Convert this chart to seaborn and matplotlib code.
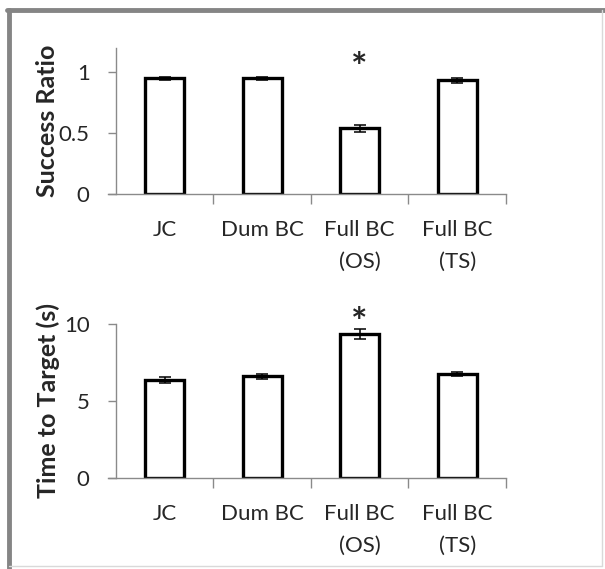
import pandas as pd
import matplotlib.pyplot as plt
import seaborn as sns
from matplotlib.lines import Line2D

# Datos
categorias = ["JC", "Dum BC", "Full BC\n(OS)", "Full BC\n(TS)"]
ratio_media = [0.95, 0.95, 0.54, 0.935]
ratio_error = [0.01, 0.01, 0.03, 0.02]
tiempo_media = [6.35, 6.6, 9.35, 6.75]
tiempo_error = [0.2, 0.15, 0.3, 0.12]
significativo = [False, False, True, False]

sns.set_style("white")
plt.rcParams["font.family"] = ["Lato", "DejaVu Sans"]

GRIS = "#8a8a8a"

df = pd.DataFrame({
    "cond": categorias,
    "ratio": ratio_media,
    "ratio_err": ratio_error,
    "tiempo": tiempo_media,
    "tiempo_err": tiempo_error,
})

fig = plt.figure(figsize=(6.05, 5.69), dpi=100)
ax1 = fig.add_axes([0.1917, 0.659, 0.6446, 0.2566])
ax2 = fig.add_axes([0.1917, 0.160, 0.6446, 0.2707])


def panel(ax, col, err_col, ylim, yticks, ylabel, star_y, lpad):
    sns.barplot(data=df, x="cond", y=col, color="white", edgecolor="black",
                linewidth=2.4, width=0.4, ax=ax, errorbar=None)
    ax.errorbar(range(len(df)), df[col], yerr=df[err_col], fmt="none",
                ecolor="black", elinewidth=1.1, capsize=4.5, capthick=1.1)
    ax.set_xlim(-0.5, len(df) - 0.5)
    ax.set_ylim(*ylim)
    ax.set_yticks(yticks)
    ax.set_yticklabels([f"{t:g}" for t in yticks], fontsize=16)
    ax.set_xticks([i + 0.5 for i in range(len(df))])
    ax.set_xticklabels([])
    ax.set_xticks(range(len(df)), minor=True)
    ax.set_xticklabels(df["cond"], minor=True, fontsize=16, linespacing=1.7)
    ax.tick_params(axis="x", which="major", direction="out", length=7,
                   width=1, color=GRIS, bottom=True)
    ax.tick_params(axis="x", which="minor", length=0, pad=19)
    ax.tick_params(axis="y", direction="out", length=6, width=1,
                   color=GRIS, left=True, pad=13)
    ax.set_xlabel("")
    ax.set_ylabel(ylabel, fontsize=18, fontweight="bold", labelpad=lpad)
    for s in ["top", "right"]:
        ax.spines[s].set_visible(False)
    for s in ["left", "bottom"]:
        ax.spines[s].set_color(GRIS)
        ax.spines[s].set_linewidth(1)
    ax.spines["bottom"].set_bounds(-0.58, len(df) - 0.5)
    for i, sig in enumerate(significativo):
        if sig:
            ax.text(i, star_y, "*", ha="center", va="center", fontsize=28,
                    fontweight="bold", clip_on=False)


panel(ax1, "ratio", "ratio_err", (0, 1.2), [0, 0.5, 1], "Success Ratio", 1.03, 0)
panel(ax2, "tiempo", "tiempo_err", (0, 10), [0, 5, 10], "Time to Target (s)", 10.0, 2.5)

# Marco gris alrededor de la figura
fig.add_artist(Line2D([0.012, 1.0], [0.9824, 0.9824], color="#858585", lw=3.5, transform=fig.transFigure))
fig.add_artist(Line2D([0.0149, 0.0149], [0.0, 0.9824], color="#858585", lw=3.5, transform=fig.transFigure))
fig.add_artist(Line2D([0.995, 0.995], [0.005, 0.9824], color="#d9d9d9", lw=1, transform=fig.transFigure))
fig.add_artist(Line2D([0.0149, 0.995], [0.005, 0.005], color="#d9d9d9", lw=1, transform=fig.transFigure))

fig.savefig("out.png", dpi=100)
